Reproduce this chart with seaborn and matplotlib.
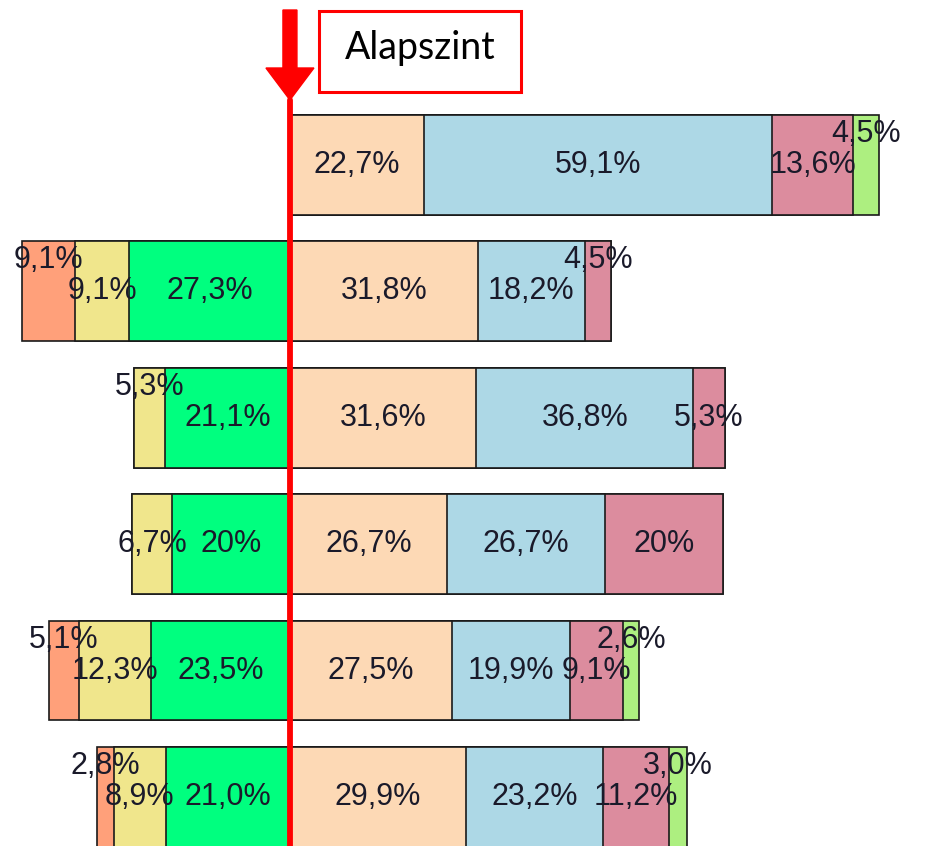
import matplotlib
matplotlib.use("Agg")
import matplotlib.pyplot as plt
import matplotlib.transforms as mtransforms
from matplotlib.patches import FancyArrow, Rectangle
import seaborn as sns

# Rows of the diverging stacked bar chart (top to bottom)
rows = ["1", "2", "3", "4", "5", "6"]

# Segments left of the baseline (outermost first)
orange = [0, 9.1, 0, 0, 5.1, 2.8]
khaki = [0, 9.1, 5.3, 6.7, 12.3, 8.9]
green = [0, 27.3, 21.1, 20.0, 23.5, 21.0]
# Segments right of the baseline (innermost first)
peach = [22.7, 31.8, 31.6, 26.7, 27.5, 29.9]
blue = [59.1, 18.2, 36.8, 26.7, 19.9, 23.2]
pink = [13.6, 4.5, 5.3, 20.0, 9.1, 11.2]
lgreen = [4.5, 0, 0, 0, 2.6, 3.0]

orange_lbl = ["", "9,1%", "", "", "5,1%", "2,8%"]
khaki_lbl = ["", "9,1%", "5,3%", "6,7%", "12,3%", "8,9%"]
green_lbl = ["", "27,3%", "21,1%", "20%", "23,5%", "21,0%"]
peach_lbl = ["22,7%", "31,8%", "31,6%", "26,7%", "27,5%", "29,9%"]
blue_lbl = ["59,1%", "18,2%", "36,8%", "26,7%", "19,9%", "23,2%"]
pink_lbl = ["13,6%", "4,5%", "5,3%", "20%", "9,1%", "11,2%"]
lgreen_lbl = ["4,5%", "", "", "", "2,6%", "3,0%"]

colors = {
    "orange": "#FFA07A", "khaki": "#F0E68C", "green": "#00FF7F",
    "peach": "#FDD9B5", "blue": "#ADD8E6", "pink": "#DC8C9E", "lgreen": "#ADEF80",
}
# labels drawn above the bar centre line
raised = {("orange", 1), ("orange", 4), ("orange", 5), ("khaki", 2),
          ("pink", 1), ("lgreen", 0), ("lgreen", 4), ("lgreen", 5)}

sns.set_style("white")
plt.rcParams["font.family"] = ["Liberation Sans", "DejaVu Sans"]

fig = plt.figure(figsize=(9.3, 8.46), dpi=100)
ax = fig.add_axes([0, 0, 1, 1])

left = [("green", green, green_lbl), ("khaki", khaki, khaki_lbl), ("orange", orange, orange_lbl)]
right = [("peach", peach, peach_lbl), ("blue", blue, blue_lbl),
         ("pink", pink, pink_lbl), ("lgreen", lgreen, lgreen_lbl)]

def cumulate(series, sign):
    out, run = [], [0.0] * len(rows)
    for name, vals, lbl in series:
        start = run[:]
        run = [r + v for r, v in zip(run, vals)]
        out.append((name, vals, lbl, start, run[:], sign))
    return out

segs = cumulate(left, -1) + cumulate(right, 1)

# draw outermost cumulative bars first so inner ones paint over them
for side in (-1, 1):
    for name, vals, lbl, start, end, sign in reversed([s for s in segs if s[5] == side]):
        sns.barplot(x=[sign * e for e in end], y=rows, orient="h", color=colors[name],
                    saturation=1, width=0.79, edgecolor="#1a1a1a", linewidth=1.2,
                    errorbar=None, ax=ax)

for name, vals, lbl, start, end, sign in segs:
    for i, (v, t) in enumerate(zip(vals, lbl)):
        if v <= 0:
            continue
        xc = sign * (start[i] + v / 2)
        yc = i - 0.245 if (name, i) in raised else i
        ax.text(xc, yc, t, ha="center", va="center", fontsize=22, color="#1a1a2a")

ax.set_xlim(-49.15, 108.5)
ax.set_ylim(5.388, -1.305)
ax.axis("off")

# baseline
ax.axvline(0, ymin=0, ymax=1 - 100 / 846, color="#FF0000", lw=4.2)
blend = mtransforms.blended_transform_factory(ax.transData, ax.transAxes)
ax.add_patch(FancyArrow(0, 1 - 10 / 846, 0, -90 / 846, width=14 / 5.9, head_width=48 / 5.9,
                        head_length=32 / 846, length_includes_head=True,
                        color="#FF0000", transform=blend, clip_on=False))

fig.add_artist(Rectangle((319 / 930, 1 - 92 / 846), 202 / 930, 81 / 846,
                         transform=fig.transFigure, facecolor="white",
                         edgecolor="#FF0000", lw=2.2))
fig.text(420 / 930, 1 - 59 / 846, "Alapszint", ha="center", va="baseline",
         fontsize=27, family=["Lato", "DejaVu Sans"], color="black")

fig.savefig("out.png", dpi=100)
